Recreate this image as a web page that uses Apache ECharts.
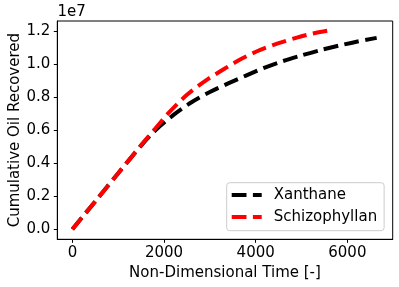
<!DOCTYPE html>
<html>
<head>
<meta charset="utf-8">
<script src="https://cdn.jsdelivr.net/npm/echarts@6/dist/echarts.min.js"></script>
<style>
html,body{margin:0;padding:0;background:#fff;}
#chart{width:399px;height:287px;}
</style>
</head>
<body>
<div id="chart"></div>
<script>
// Data (x: non-dimensional time, y: cumulative oil recovered)
const xanthaneTime = [0, 500, 1000, 1500, 1800, 2200, 2600, 3000, 3400, 3800, 4200, 4600, 5000, 5400, 5800, 6200, 6640];
const xanthaneOil  = [0, 1.70e6, 3.40e6, 5.07e6, 5.97e6, 6.92e6, 7.70e6, 8.32e6, 8.84e6, 9.33e6, 9.80e6, 10.20e6, 10.54e6, 10.85e6, 11.12e6, 11.37e6, 11.60e6];
const schizoTime = [0, 500, 1000, 1500, 1800, 2100, 2500, 2900, 3300, 3700, 4100, 4500, 4900, 5300, 5560];
const schizoOil  = [0, 1.70e6, 3.40e6, 5.10e6, 6.08e6, 7.05e6, 8.15e6, 9.00e6, 9.70e6, 10.35e6, 10.87e6, 11.28e6, 11.62e6, 11.90e6, 12.03e6];
const seriesNames = ['Xanthane', 'Schizophyllan'];
const xTicks = [0, 2000, 4000, 6000];
const yTicks = [0, 2e6, 4e6, 6e6, 8e6, 10e6, 12e6];

const zip = (a, b) => a.map((v, i) => [v, b[i]]);
const font = 'DejaVu Sans';
const chart = echarts.init(document.getElementById('chart'), null, {renderer: 'canvas'});
const dash = [14.8, 6.4];
// legend handle: two dashes inside a 30x14 box (corner dots fix the bounding box)
const dashIcon = 'path://M0,0L0.01,0L0.01,0.01Z M30,14L29.99,14L29.99,13.99Z M0,5L14.8,5L14.8,9L0,9Z M21.2,5L30,5L30,9L21.2,9Z';
chart.setOption({
  animation: false,
  backgroundColor: '#fff',
  textStyle: {fontFamily: font},
  grid: {left: 57.3, top: 21, right: 6.3, bottom: 47.7, containLabel: false, outerBoundsMode: 'none'},
  xAxis: {
    type: 'value', min: -330, max: 6990,
    name: 'Non-Dimensional Time [-]', nameLocation: 'middle', nameGap: 26, nameMoveOverlap: false,
    nameTextStyle: {fontFamily: font, fontSize: 15, color: '#000'},
    axisLine: {show: true, onZero: false, lineStyle: {color: '#000', width: 1}},
    axisTick: {show: true, length: 3.5, lineStyle: {color: '#000', width: 1}, customValues: xTicks},
    axisLabel: {fontFamily: font, fontSize: 15, color: '#000', margin: 6, customValues: xTicks,
      formatter: v => String(v)},
    splitLine: {show: false}
  },
  yAxis: {
    type: 'value', min: -0.0606e7, max: 1.2624e7,
    name: 'Cumulative Oil Recovered', nameLocation: 'middle', nameGap: 35, nameMoveOverlap: false,
    nameTextStyle: {fontFamily: font, fontSize: 15, color: '#000'},
    axisLine: {show: true, onZero: false, lineStyle: {color: '#000', width: 1}},
    axisTick: {show: true, length: 3.5, lineStyle: {color: '#000', width: 1}, customValues: yTicks},
    axisLabel: {fontFamily: font, fontSize: 15, color: '#000', margin: 7, customValues: yTicks,
      formatter: v => (v / 1e7).toFixed(1)},
    splitLine: {show: false}
  },
  graphic: [{
    type: 'rect', shape: {x: 57.3, y: 21, width: 335.4, height: 218.3},
    style: {fill: 'none', stroke: '#000', lineWidth: 1}, silent: true, z: 10
  }, {
    type: 'text', left: 57.5, top: 5,
    style: {text: '1e7', font: '15px "DejaVu Sans"', fill: '#000'}
  }],
  legend: {
    orient: 'vertical', left: 226.7, top: 182.7,
    backgroundColor: 'rgba(255,255,255,0.8)', borderColor: '#cccccc', borderWidth: 1, borderRadius: 3,
    padding: [3.3, 7, 4.7, 5], itemGap: 4, itemWidth: 30, itemHeight: 14,
    textStyle: {fontFamily: font, fontSize: 15, lineHeight: 18, color: '#000', padding: [0, 0, 0, 7]},
    data: seriesNames.map((n, i) => ({name: n, icon: dashIcon, itemStyle: {color: i === 0 ? '#000' : '#ff0000'}}))
  },
  series: [
    {name: seriesNames[0], type: 'line', data: zip(xanthaneTime, xanthaneOil), smooth: 0.3, showSymbol: false, symbol: 'none',
      lineStyle: {color: '#000', width: 4, type: dash, cap: 'butt'}, itemStyle: {color: '#000'}},
    {name: seriesNames[1], type: 'line', data: zip(schizoTime, schizoOil), smooth: 0.3, showSymbol: false, symbol: 'none',
      lineStyle: {color: '#ff0000', width: 4, type: dash, cap: 'butt'}, itemStyle: {color: '#ff0000'}, z: 3}
  ]
});
</script>
</body>
</html>
